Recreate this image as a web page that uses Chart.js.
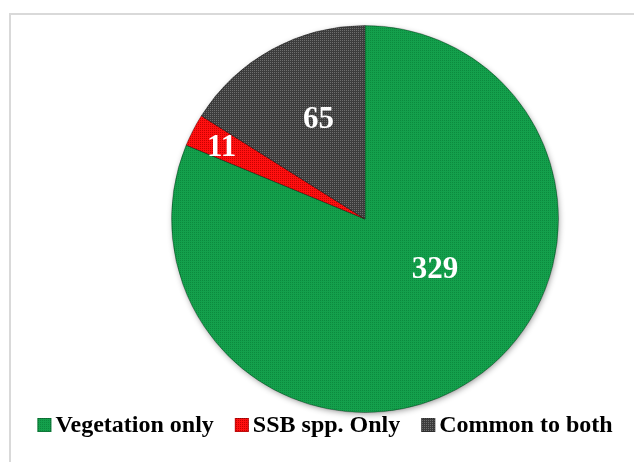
<!DOCTYPE html>
<html>
<head>
<meta charset="utf-8">
<script src="https://cdn.jsdelivr.net/npm/chart.js@4.4.1/dist/chart.umd.min.js"></script>
<style>
  html, body { margin: 0; padding: 0; background: #fff; }
  #wrap { position: relative; width: 634px; height: 462px; overflow: hidden; }
  #frame { position: absolute; left: 9px; top: 13px; width: 700px; height: 600px;
           border-left: 2px solid #d9d9d9; border-top: 2px solid #d9d9d9; }
  canvas { position: absolute; left: 0; top: 0; }
</style>
</head>
<body>
<div id="wrap">
  <div id="frame"></div>
  <canvas id="pie" width="634" height="462"></canvas>
</div>
<script>
// --- donnees du graphique ---
const categories = ["Vegetation only", "SSB spp. Only", "Common to both"];
const counts = [329, 11, 65];

// couleurs : fond + points de trame
const baseColors = ["#14a04c", "#ff1010", "#3c3c3c"];
const dotColors  = ["#0c8a3e", "#c80000", "#6e6e6e"];

// petite trame 4x4 pour imiter le motif Excel
function makePattern(base, dot) {
    const c = document.createElement("canvas");
    c.width = 4; c.height = 4;
    const g = c.getContext("2d");
    g.fillStyle = base;
    g.fillRect(0, 0, 4, 4);
    g.fillStyle = dot;
    g.fillRect(0, 0, 1, 1);
    g.fillRect(2, 2, 1, 1);
    g.fillRect(2, 0, 1, 1);
    g.fillRect(0, 2, 1, 1);
    return g.createPattern(c, "repeat");
}
const fills = baseColors.map((b, i) => makePattern(b, dotColors[i]));

const serif = "'Times New Roman', 'Liberation Serif', serif";

// decale le centre du camembert vers la droite (comme dans Excel)
const shiftPlugin = {
    id: "shiftArea",
    afterLayout(chart, args, opts) {
        chart.chartArea.left += opts.dx;
        chart.chartArea.right += opts.dx;
    }
};

// ombre douce sous le disque
const shadowPlugin = {
    id: "pieShadow",
    beforeDatasetsDraw(chart) {
        const arc = chart.getDatasetMeta(0).data[0];
        if (!arc) return;
        const { x, y, outerRadius } = arc.getProps(["x", "y", "outerRadius"], true);
        const ctx = chart.ctx;
        ctx.save();
        ctx.shadowColor = "rgba(0,0,0,0.45)";
        ctx.shadowBlur = 6;
        ctx.shadowOffsetX = 1;
        ctx.shadowOffsetY = 2;
        ctx.fillStyle = "#666";
        ctx.beginPath();
        ctx.arc(x, y, outerRadius - 1, 0, Math.PI * 2);
        ctx.fill();
        ctx.restore();
    }
};

// etiquettes de valeurs dans les parts
const valueLabels = {
    id: "valueLabels",
    afterDatasetsDraw(chart, args, opts) {
        const ctx = chart.ctx;
        const meta = chart.getDatasetMeta(0);
        ctx.save();
        ctx.font = opts.font;
        ctx.fillStyle = "#fff";
        ctx.textAlign = "center";
        ctx.textBaseline = "middle";
        meta.data.forEach((arc, i) => {
            const p = arc.getProps(["x", "y", "startAngle", "endAngle", "outerRadius"], true);
            const mid = (p.startAngle + p.endAngle) / 2 + opts.angleShift[i];
            const r = p.outerRadius * opts.radius[i];
            ctx.fillText(String(counts[i]), p.x + Math.cos(mid) * r, p.y + Math.sin(mid) * r);
        });
        ctx.restore();
    }
};

// legende compacte (carre colle au texte, comme Excel)
const compactLegend = {
    id: "compactLegend",
    afterDraw(chart, args, opts) {
        const ctx = chart.ctx;
        ctx.save();
        ctx.font = opts.font;
        ctx.textBaseline = "alphabetic";
        ctx.textAlign = "left";
        const widths = categories.map(t => ctx.measureText(t).width);
        const itemW = widths.map(w => opts.box + opts.gap + w);
        const total = itemW.reduce((a, b) => a + b, 0) + opts.spacing * (categories.length - 1);
        let x = opts.centerX - total / 2;
        categories.forEach((label, i) => {
            ctx.fillStyle = fills[i];
            ctx.fillRect(x, opts.baseline - opts.box, opts.box, opts.box);
            ctx.strokeStyle = "rgba(0,0,0,0.25)";
            ctx.lineWidth = 1;
            ctx.strokeRect(x + 0.5, opts.baseline - opts.box + 0.5, opts.box - 1, opts.box - 1);
            ctx.fillStyle = "#000";
            ctx.fillText(label, x + opts.box + opts.gap, opts.baseline);
            x += itemW[i] + opts.spacing;
        });
        ctx.restore();
    }
};

new Chart(document.getElementById("pie"), {
    type: "pie",
    data: {
        labels: categories,
        datasets: [{
            data: counts,
            backgroundColor: fills,
            borderColor: "rgba(0,0,0,0.3)",
            borderWidth: 1
        }]
    },
    options: {
        responsive: false,
        animation: false,
        layout: { padding: { top: 25, bottom: 49, left: 0, right: 0 } },
        plugins: {
            tooltip: { enabled: false },
            legend: { display: false },
            shiftArea: { dx: 48 },
            valueLabels: {
                font: "bold 31px " + serif,
                radius: [0.446, 0.826, 0.567],
                angleShift: [-0.356, -0.02, 0.067]
            },
            compactLegend: {
                font: "bold 24px " + serif,
                box: 14,
                gap: 4,
                spacing: 21,
                centerX: 325,
                baseline: 432
            }
        }
    },
    plugins: [shiftPlugin, shadowPlugin, valueLabels, compactLegend]
});
</script>
</body>
</html>
